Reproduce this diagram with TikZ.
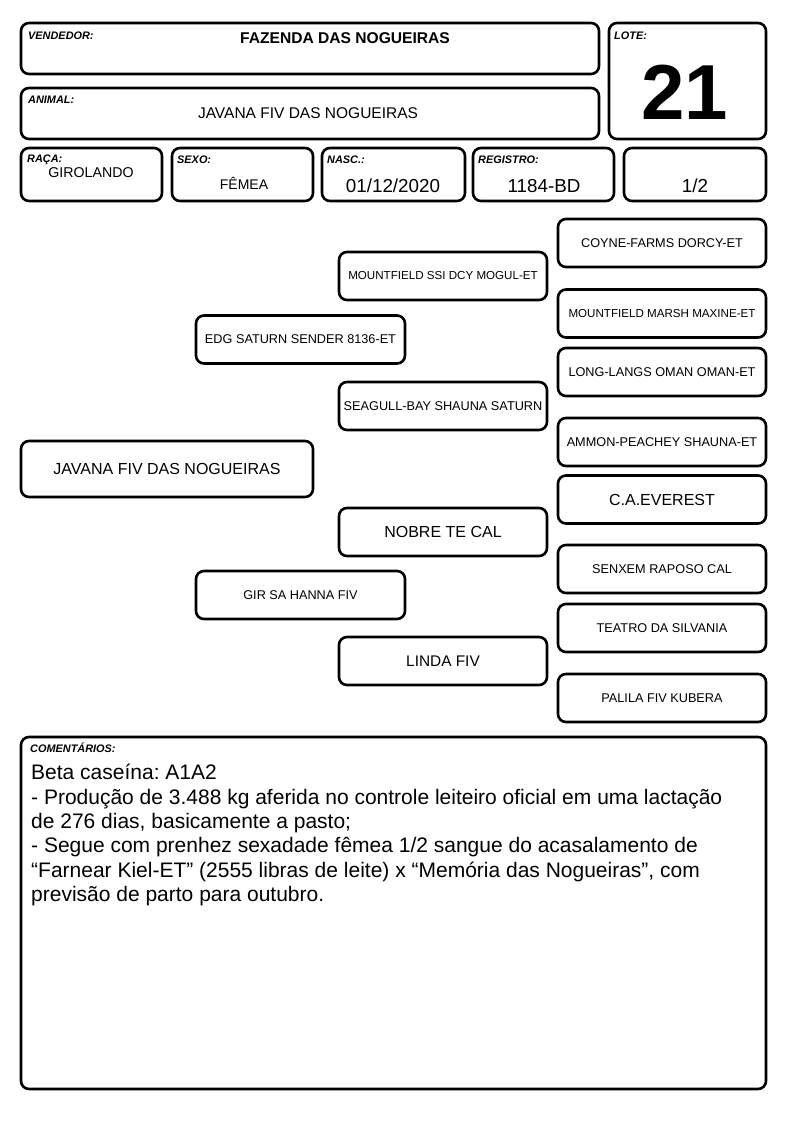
\documentclass[tikz,border=0pt]{standalone}
\usepackage{fontspec}
\setmainfont{Liberation Sans}
\usetikzlibrary{positioning}
\frenchspacing
\tikzset{
    card/.style={draw,line width=2.6pt,rounded corners=8pt,inner sep=0pt,outer sep=0pt},
    lbl/.style={font=\fontsize{10.9}{12}\selectfont\bfseries\itshape,inner sep=0pt,anchor=base west},
    val/.style={inner sep=0pt,anchor=base},
    ped/.style={card,minimum width=208pt,minimum height=48pt,font=\fontsize{12.7}{15}\selectfont},
    big/.style={font=\fontsize{16}{19}\selectfont},
    small/.style={font=\fontsize{11.6}{14}\selectfont},
}

\begin{document}
\begin{tikzpicture}[x=1pt,y=-1pt]
    \useasboundingbox (0,0) rectangle (794,1123);
    % header
    \node[card,minimum width=578pt,minimum height=51pt] (vend) at (310,48.5) {};
    \node[card,minimum width=578pt,minimum height=51pt] (anim) at (310,113.5) {};
    \node[card,minimum width=157pt,minimum height=116pt] (lote) at (687.5,81) {};
    \node[card,minimum width=141pt,minimum height=53pt] (raca) at (91.5,174.5) {};
    \node[card,minimum width=141pt,minimum height=53pt] (sexo) at (242.5,174.5) {};
    \node[card,minimum width=143pt,minimum height=53pt] (nasc) at (393.5,174.5) {};
    \node[card,minimum width=141pt,minimum height=53pt] (reg) at (543.5,174.5) {};
    \node[card,minimum width=142pt,minimum height=53pt] (frac) at (695,174.5) {};
    \node[lbl] (vendl) at (28,39.5) {VENDEDOR:};
    \node[lbl] (animl) at (28,103.5) {ANIMAL:};
    \node[lbl] (lotel) at (614,39.5) {LOTE:};
    \node[lbl] (racal) at (27,162.5) {RAÇA:};
    \node[lbl] (sexol) at (177,164) {SEXO:};
    \node[lbl] (nascl) at (327,164) {NASC.:};
    \node[lbl] (regl) at (478,164) {REGISTRO:};
    \node[val,font=\fontsize{15.6}{18}\selectfont\bfseries] (vendv) at (345,43.5) {FAZENDA DAS NOGUEIRAS};
    \node[val,font=\fontsize{15.5}{18}\selectfont] (animv) at (308,118.5) {JAVANA FIV DAS NOGUEIRAS};
    \node[val,font=\fontsize{78}{80}\selectfont\bfseries] (lotev) at (685,120) {21};
    \node[val,font=\fontsize{14.2}{17}\selectfont] (racav) at (91,177.5) {GIROLANDO};
    \node[val,font=\fontsize{14}{17}\selectfont] (sexov) at (244,189.5) {FÊMEA};
    \node[val,font=\fontsize{18.8}{22}\selectfont] (nascv) at (393,193) {01/12/2020};
    \node[val,font=\fontsize{18.8}{22}\selectfont] (regv) at (544,193) {1184-BD};
    \node[val,font=\fontsize{18.8}{22}\selectfont] (fracv) at (695,193) {1/2};
    % pedigree
    \node[ped,minimum width=292pt,minimum height=56pt,big] (javana) at (167,469) {JAVANA FIV DAS NOGUEIRAS};
    \node[ped,minimum width=209pt] (sender) at (300.5,339.5) {EDG SATURN SENDER 8136-ET};
    \node[ped,minimum width=209pt] (hanna) at (300.5,595) {GIR SA HANNA FIV};
    \node[ped,small] (mogul) at (443,276) {MOUNTFIELD SSI DCY MOGUL-ET};
    \node[ped] (saturn) at (443,406) {SEAGULL-BAY SHAUNA SATURN};
    \node[ped,big] (nobre) at (443,532) {NOBRE TE CAL};
    \node[ped,font=\fontsize{15.4}{18}\selectfont] (linda) at (443,661) {LINDA FIV};
    \node[ped] (coyne) at (662,243) {COYNE-FARMS DORCY-ET};
    \node[ped,small] (maxine) at (662,313.5) {MOUNTFIELD MARSH MAXINE-ET};
    \node[ped] (oman) at (662,372) {LONG-LANGS OMAN OMAN-ET};
    \node[ped] (shauna) at (662,442) {AMMON-PEACHEY SHAUNA-ET};
    \node[ped,big] (everest) at (662,499.5) {C.A.EVEREST};
    \node[ped] (raposo) at (662,569) {SENXEM RAPOSO CAL};
    \node[ped] (teatro) at (662,628) {TEATRO DA SILVANIA};
    \node[ped] (palila) at (662,698) {PALILA FIV KUBERA};
    % comments
    \node[card,minimum width=745pt,minimum height=352pt] (coment) at (393.5,913) {};
    \node[lbl] (comentl) at (30,752) {COMENTÁRIOS:};
    \node[inner sep=0pt,anchor=north west,align=left,font=\fontsize{21}{24.4}\selectfont] (comentv) at (31,764) {Beta caseína: A1A2\\
        - Produção de 3.488 kg aferida no controle leiteiro oficial em uma lactação\\
        de 276 dias, basicamente a pasto;\\
        - Segue com prenhez sexadade fêmea 1/2 sangue do acasalamento de\\
        “Farnear Kiel-ET” (2555 libras de leite) x “Memória das Nogueiras”, com\\
        previsão de parto para outubro.};
\end{tikzpicture}
\end{document}
